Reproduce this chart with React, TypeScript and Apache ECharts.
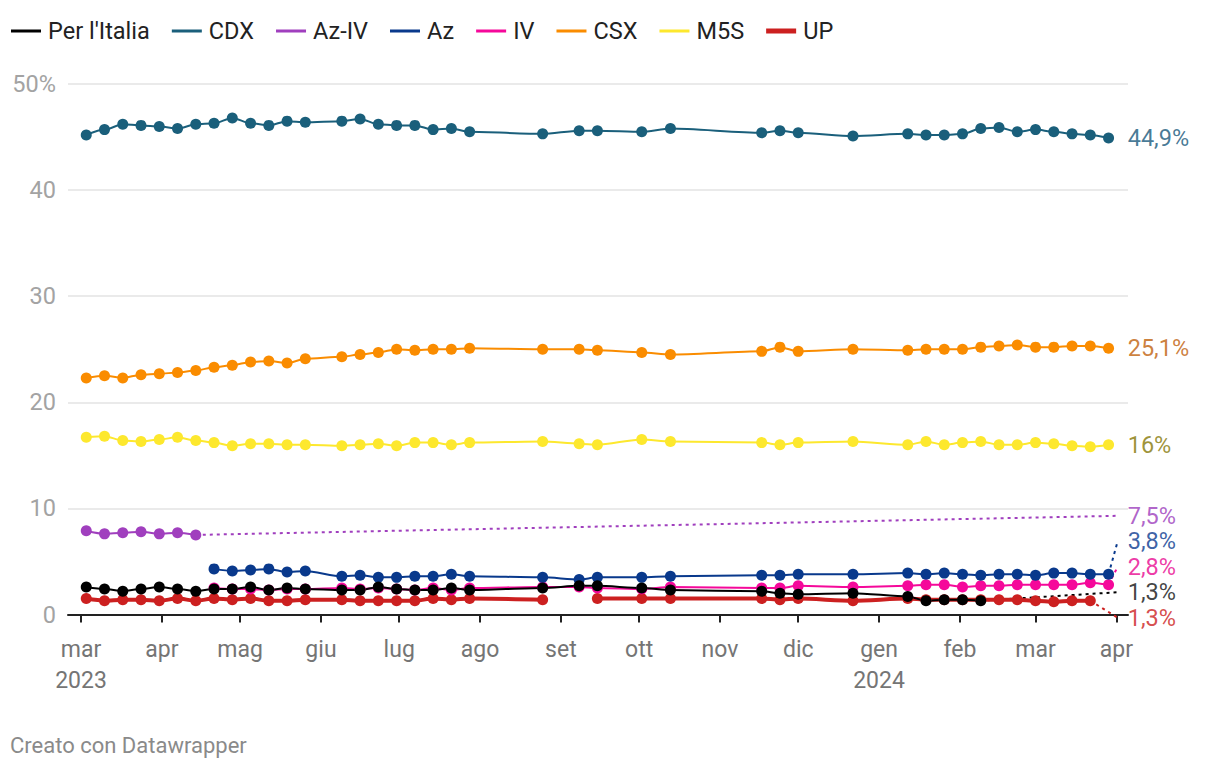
import React, { useEffect, useRef } from "react";
import * as echarts from "echarts";

// ---- data ----
const pollDates = [
  "2023-03-03", "2023-03-10", "2023-03-17", "2023-03-24", "2023-03-31",
  "2023-04-07", "2023-04-14", "2023-04-21", "2023-04-28",
  "2023-05-05", "2023-05-12", "2023-05-19", "2023-05-26",
  "2023-06-09", "2023-06-16", "2023-06-23", "2023-06-30",
  "2023-07-07", "2023-07-14", "2023-07-21", "2023-07-28",
  "2023-08-25", "2023-09-08", "2023-09-15", "2023-10-02", "2023-10-13",
  "2023-11-17", "2023-11-24", "2023-12-01", "2023-12-22",
  "2024-01-12", "2024-01-19", "2024-01-26",
  "2024-02-02", "2024-02-09", "2024-02-16", "2024-02-23",
  "2024-03-01", "2024-03-08", "2024-03-15", "2024-03-22", "2024-03-29",
];

const perItalia = [2.6, 2.4, 2.2, 2.4, 2.6, 2.4, 2.2, 2.4, 2.4, 2.6, 2.3, 2.5, 2.4, 2.3, 2.3, 2.6, 2.4, 2.3, 2.3, 2.5, 2.3, 2.5, 2.7, 2.7,
  2.5, 2.3, 2.2, 2.0, 1.9, 2.0, 1.7, 1.3, 1.4, 1.4, 1.3, null, null, null, null, null, null, null];
const cdx = [45.2, 45.7, 46.2, 46.1, 46.0, 45.8, 46.2, 46.3, 46.8, 46.3, 46.1, 46.5, 46.4, 46.5, 46.7, 46.2, 46.1, 46.1, 45.7, 45.8, 45.5, 45.3, 45.6, 45.6,
  45.5, 45.8, 45.4, 45.6, 45.4, 45.1, 45.3, 45.2, 45.2, 45.3, 45.8, 45.9, 45.5, 45.7, 45.5, 45.3, 45.2, 44.9];
const azIv = [7.9, 7.6, 7.7, 7.8, 7.6, 7.7, 7.5, null, null, null, null, null, null, null, null, null, null, null, null, null, null, null, null, null,
  null, null, null, null, null, null, null, null, null, null, null, null, null, null, null, null, null, null];
const az = [null, null, null, null, null, null, null, 4.3, 4.1, 4.2, 4.3, 4.0, 4.1, 3.6, 3.7, 3.5, 3.5, 3.6, 3.6, 3.8, 3.6, 3.5, 3.3, 3.5,
  3.5, 3.6, 3.7, 3.7, 3.8, 3.8, 3.9, 3.8, 3.9, 3.8, 3.7, 3.8, 3.8, 3.7, 3.9, 3.9, 3.8, 3.8];
const iv = [null, null, null, null, null, null, null, 2.5, 2.4, 2.4, 2.3, 2.4, 2.4, 2.5, 2.4, 2.5, 2.4, 2.3, 2.5, 2.3, 2.5, 2.6, 2.6, 2.5,
  2.4, 2.6, 2.5, 2.5, 2.7, 2.6, 2.7, 2.8, 2.8, 2.6, 2.7, 2.7, 2.8, 2.8, 2.8, 2.8, 3.0, 2.8];
const csx = [22.3, 22.5, 22.3, 22.6, 22.7, 22.8, 23.0, 23.3, 23.5, 23.8, 23.9, 23.7, 24.1, 24.3, 24.5, 24.7, 25.0, 24.9, 25.0, 25.0, 25.1, 25.0, 25.0, 24.9,
  24.7, 24.5, 24.8, 25.2, 24.8, 25.0, 24.9, 25.0, 25.0, 25.0, 25.2, 25.3, 25.4, 25.2, 25.2, 25.3, 25.3, 25.1];
const m5s = [16.7, 16.8, 16.4, 16.3, 16.5, 16.7, 16.4, 16.2, 15.9, 16.1, 16.1, 16.0, 16.0, 15.9, 16.0, 16.1, 15.9, 16.2, 16.2, 16.0, 16.2, 16.3, 16.1, 16.0,
  16.5, 16.3, 16.2, 16.0, 16.2, 16.3, 16.0, 16.3, 16.0, 16.2, 16.3, 16.0, 16.0, 16.2, 16.1, 15.9, 15.8, 16.0];
const up = [1.5, 1.3, 1.4, 1.4, 1.3, 1.5, 1.3, 1.5, 1.4, 1.5, 1.3, 1.3, 1.4, 1.4, 1.3, 1.3, 1.3, 1.3, 1.5, 1.4, 1.5, 1.4, null, 1.5,
  1.5, 1.5, 1.5, 1.4, 1.5, 1.3, 1.5, 1.4, 1.4, 1.4, 1.4, 1.4, 1.4, 1.3, 1.2, 1.3, 1.3, null];

const monthTicks = [
  "2023-03-01", "2023-04-01", "2023-05-01", "2023-06-01", "2023-07-01", "2023-08-01", "2023-09-01",
  "2023-10-01", "2023-11-01", "2023-12-01", "2024-01-01", "2024-02-01", "2024-03-01", "2024-04-01",
];
const monthLabels = ["mar", "apr", "mag", "giu", "lug", "ago", "set", "ott", "nov", "dic", "gen", "feb", "mar", "apr"];
const yearLabels = ["2023", "", "", "", "", "", "", "", "", "", "2024", "", "", ""];
const yTicks = [0, 10, 20, 30, 40, 50];

const seriesDefs = [
  { name: "Per l'Italia", values: perItalia, color: "#000000", labelColor: "#111111", width: 2 },
  { name: "CDX", values: cdx, color: "#1a5f7b", labelColor: "#17577a", width: 2 },
  { name: "Az-IV", values: azIv, color: "#a03fbe", labelColor: "#9c3cbc", width: 2 },
  { name: "Az", values: az, color: "#09398c", labelColor: "#0a3a8f", width: 2 },
  { name: "IV", values: iv, color: "#f5089a", labelColor: "#e8068f", width: 2 },
  { name: "CSX", values: csx, color: "#fa8c00", labelColor: "#c0600a", width: 2 },
  { name: "M5S", values: m5s, color: "#fde82e", labelColor: "#857804", width: 2 },
  { name: "UP", values: up, color: "#cc2020", labelColor: "#cc2020", width: 4 },
];
// drawing order (later = on top)
const drawOrder = ["M5S", "CSX", "CDX", "Az-IV", "UP", "IV", "Az", "Per l'Italia"];

const FONT = "Roboto";
const ts = (d: string) => new Date(d + "T00:00:00Z").getTime();
const X_MIN = Date.UTC(2023, 1, 24);
const X_MAX = Date.UTC(2024, 3, 5, 11);
const LABEL_ANCHOR = Date.UTC(2024, 3, 1, 12);

function fmt(v: number) {
  return Number.isInteger(v) ? `${v}%` : `${v.toFixed(1).replace(".", ",")}%`;
}

function placeLabels(items: { key: string; v: number; order: number }[], gap: number, floor: number) {
  const sorted = [...items].sort((a, b) => a.v - b.v || b.order - a.order);
  let blocks = sorted.map((it) => ({ items: [it], start: Math.max(it.v, floor) }));
  let changed = true;
  while (changed) {
    changed = false;
    for (let i = 0; i < blocks.length - 1; i++) {
      const a = blocks[i];
      const b = blocks[i + 1];
      const aTop = a.start + (a.items.length - 1) * gap;
      if (aTop + gap > b.start + 1e-9) {
        const merged = a.items.concat(b.items);
        const ideal = merged.reduce((s, it, k) => s + it.v - k * gap, 0) / merged.length;
        blocks.splice(i, 2, { items: merged, start: Math.max(ideal, floor) });
        changed = true;
        break;
      }
    }
  }
  const pos: Record<string, number> = {};
  blocks.forEach((b) => b.items.forEach((it, k) => (pos[it.key] = b.start + k * gap)));
  return pos;
}

function buildOption() {
  const xs = pollDates.map(ts);
  const tickVals = monthTicks.map(ts);
  const lastInfo = seriesDefs.map((s, idx) => {
    let li = -1;
    s.values.forEach((v, i) => { if (v != null) li = i; });
    return { key: s.name, idx: li, v: s.values[li] as number, order: idx };
  });
  const pos = placeLabels(lastInfo.map((l) => ({ key: l.key, v: l.v, order: l.order })), 2.4, -0.3);

  const series: any[] = [];
  drawOrder.forEach((name) => {
    const s = seriesDefs.find((d) => d.name === name)!;
    series.push({
      name: s.name,
      type: "line",
      data: s.values.map((v, i) => [xs[i], v == null ? "-" : v]),
      connectNulls: false,
      smooth: 0.25,
      smoothMonotone: "x",
      symbol: "circle",
      symbolSize: 11,
      showSymbol: true,
      lineStyle: { color: s.color, width: s.width },
      itemStyle: { color: s.color },
      z: 3,
    });
  });

  seriesDefs.forEach((s) => {
    const li = lastInfo.find((l) => l.key === s.name)!;
    const p = pos[s.name];
    const needConnector = li.idx < pollDates.length - 1 || Math.abs(p - li.v) > 0.05;
    if (needConnector) {
      series.push({
        name: s.name + "-conn",
        type: "line",
        data: [[xs[li.idx], li.v], [LABEL_ANCHOR, p]],
        symbol: "none",
        clip: false,
        silent: true,
        lineStyle: { color: s.color, width: 2, type: [3, 4] },
        z: 2,
      });
    }
    series.push({
      name: s.name + "-label",
      type: "scatter",
      data: [[LABEL_ANCHOR, p]],
      symbolSize: 0,
      clip: false,
      silent: true,
      label: {
        show: true,
        position: "right",
        distance: 10,
        formatter: () => fmt(li.v),
        color: s.labelColor,
        fontFamily: FONT,
        fontSize: 23.5,
      },
      z: 4,
    });
  });

  const legendIcon = (h: number) => {
    const y0 = (14 - h) / 2;
    return `path://M0,0H0.01V0.01H0Z M0,${y0}H30V${y0 + h}H0Z M29.99,13.99H30V14H29.99Z`;
  };

  return {
    animation: false,
    backgroundColor: "#ffffff",
    textStyle: { fontFamily: FONT },
    grid: { left: 68, right: 92, top: 84, bottom: 157.5, containLabel: false },
    legend: {
      left: 6,
      top: 14,
      itemWidth: 30,
      itemHeight: 14,
      itemGap: 22,
      selectedMode: false,
      textStyle: { fontFamily: FONT, fontSize: 23.5, color: "#222", padding: [0, 0, 0, 2] },
      data: seriesDefs.map((s) => ({ name: s.name, icon: legendIcon(s.width === 4 ? 5 : 3) })),
    },
    xAxis: {
      type: "value",
      min: X_MIN,
      max: X_MAX,
      axisLine: { show: true, lineStyle: { color: "#222", width: 2 } },
      axisTick: { show: true, customValues: tickVals, length: 8, lineStyle: { color: "#222", width: 2 } },
      axisLabel: {
        customValues: tickVals,
        fontFamily: FONT,
        fontSize: 23,
        color: "#757575",
        margin: 19,
        lineHeight: 31,
        hideOverlap: false,
        formatter: (val: number) => {
          const i = tickVals.indexOf(val);
          if (i < 0) return "";
          return yearLabels[i] ? `${monthLabels[i]}\n${yearLabels[i]}` : monthLabels[i];
        },
      },
      splitLine: { show: false },
    },
    yAxis: {
      type: "value",
      min: 0,
      max: 50,
      interval: 10,
      axisLine: { show: false },
      axisTick: { show: false },
      axisLabel: {
        fontFamily: FONT,
        fontSize: 23.5,
        color: "#a3a3a3",
        margin: 12,
        formatter: (v: number) => (v === yTicks[yTicks.length - 1] ? `${v}%` : `${v}`),
      },
      splitLine: { show: true, lineStyle: { color: "#e3e3e3", width: 1.5 } },
    },
    graphic: [
      {
        type: "text",
        left: 10,
        top: 734,
        style: { text: "Creato con Datawrapper", fontFamily: FONT, fontSize: 22, fill: "#8a8a8a" },
      },
    ],
    series,
  };
}

export default function App() {
  const ref = useRef<HTMLDivElement>(null);
  useEffect(() => {
    if (!ref.current) return;
    const chart = echarts.init(ref.current, undefined, { renderer: "svg" });
    chart.setOption(buildOption() as any);
    return () => chart.dispose();
  }, []);
  return (
    <div
      ref={ref}
      style={{ position: "fixed", left: 0, top: 0, width: 1220, height: 772, background: "#fff" }}
    />
  );
}
